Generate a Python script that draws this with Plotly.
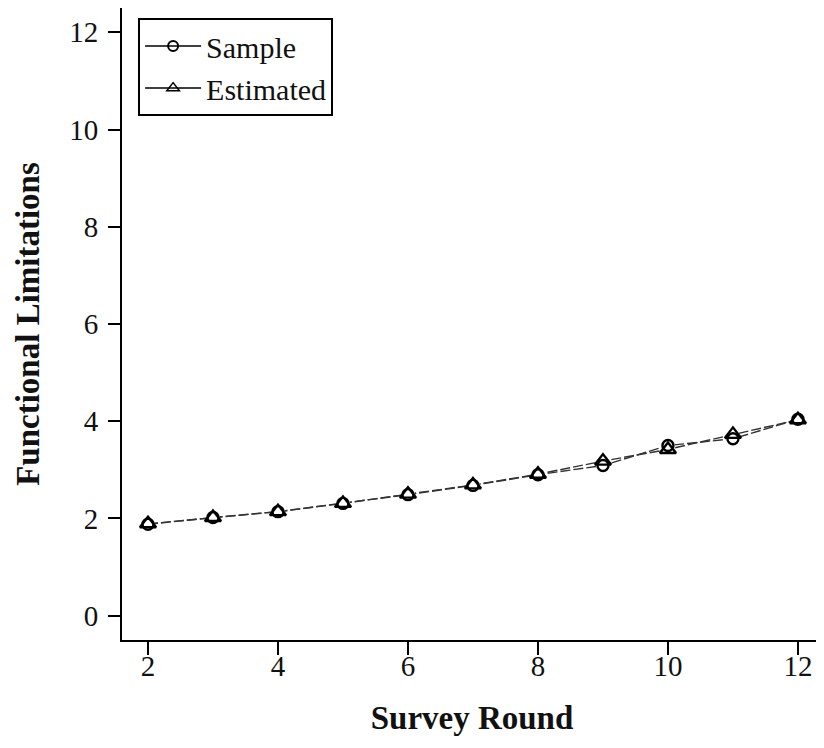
import plotly.graph_objects as go

rounds = [2, 3, 4, 5, 6, 7, 8, 9, 10, 11, 12]
sample = [1.88, 2.02, 2.14, 2.31, 2.49, 2.68, 2.90, 3.09, 3.50, 3.64, 4.04]
estimated = [1.89, 2.02, 2.14, 2.31, 2.50, 2.69, 2.91, 3.18, 3.42, 3.73, 4.03]
x_ticks = [2, 4, 6, 8, 10, 12]
y_ticks = [0, 2, 4, 6, 8, 10, 12]

FONT = "Liberation Serif"
LINE = "#333333"

fig = go.Figure()
# lines (behind)
fig.add_trace(go.Scatter(x=rounds, y=sample, mode="lines", showlegend=False,
                         line=dict(color=LINE, width=1.4, dash="10px,3px"), hoverinfo="skip"))
fig.add_trace(go.Scatter(x=rounds, y=estimated, mode="lines", showlegend=False,
                         line=dict(color=LINE, width=1.4, dash="10px,3px"), hoverinfo="skip"))
# white knockouts so the lines stop at the markers
fig.add_trace(go.Scatter(x=rounds, y=sample, mode="markers", showlegend=False,
                         marker=dict(symbol="circle", size=14, color="white", line=dict(width=0)),
                         hoverinfo="skip"))
fig.add_trace(go.Scatter(x=rounds, y=estimated, mode="markers", showlegend=False,
                         marker=dict(symbol="triangle-up", size=16, color="white", line=dict(width=0)),
                         hoverinfo="skip"))
# markers
fig.add_trace(go.Scatter(x=rounds, y=sample, mode="markers", showlegend=False,
                         marker=dict(symbol="circle-open", size=11, color="black", line=dict(width=2.4))))
fig.add_trace(go.Scatter(x=rounds, y=estimated, mode="markers", showlegend=False,
                         marker=dict(symbol="triangle-up-open", size=14, color="black", line=dict(width=2.4))))
# legend entries
fig.add_trace(go.Scatter(x=[None], y=[None], mode="lines+markers", name="Sample",
                         line=dict(color="black", width=1.5),
                         marker=dict(symbol="circle-open", size=10, color="black", line=dict(width=2))))
fig.add_trace(go.Scatter(x=[None], y=[None], mode="lines+markers", name="Estimated",
                         line=dict(color="black", width=1.5),
                         marker=dict(symbol="triangle-up-open", size=11, color="black", line=dict(width=1.5))))

fig.update_layout(
    width=816, height=732,
    margin=dict(l=114, r=2, t=0, b=100),
    paper_bgcolor="white", plot_bgcolor="white",
    font=dict(family=FONT, color="#111111", size=29),
    showlegend=True,
    legend=dict(x=0.023, y=0.984, xanchor="left", yanchor="top",
                bgcolor="white", bordercolor="black", borderwidth=2,
                font=dict(family=FONT, size=30, color="#111111"),
                itemwidth=56, tracegroupgap=0),
    xaxis=dict(range=[1.6, 12.37], tickvals=x_ticks, ticktext=[str(v) for v in x_ticks],
               showgrid=False, zeroline=False, showline=True, linecolor="black", linewidth=2,
               ticks="outside", ticklen=13, tickwidth=2, tickcolor="black",
               tickfont=dict(family=FONT, size=29), ticklabelstandoff=-14,
               title=dict(text="<b>Survey Round</b>", font=dict(family=FONT, size=33), standoff=25)),
    yaxis=dict(range=[-0.5, 12.5], tickvals=y_ticks, ticktext=[str(v) for v in y_ticks],
               showgrid=False, zeroline=False, showline=True, linecolor="black", linewidth=2,
               ticks="outside", ticklen=12, tickwidth=2, tickcolor="black",
               tickfont=dict(family=FONT, size=29), ticklabelstandoff=4,
               title=dict(text="<b>Functional Limitations</b>", font=dict(family=FONT, size=33), standoff=20)),
)

fig.write_html("out.html")
